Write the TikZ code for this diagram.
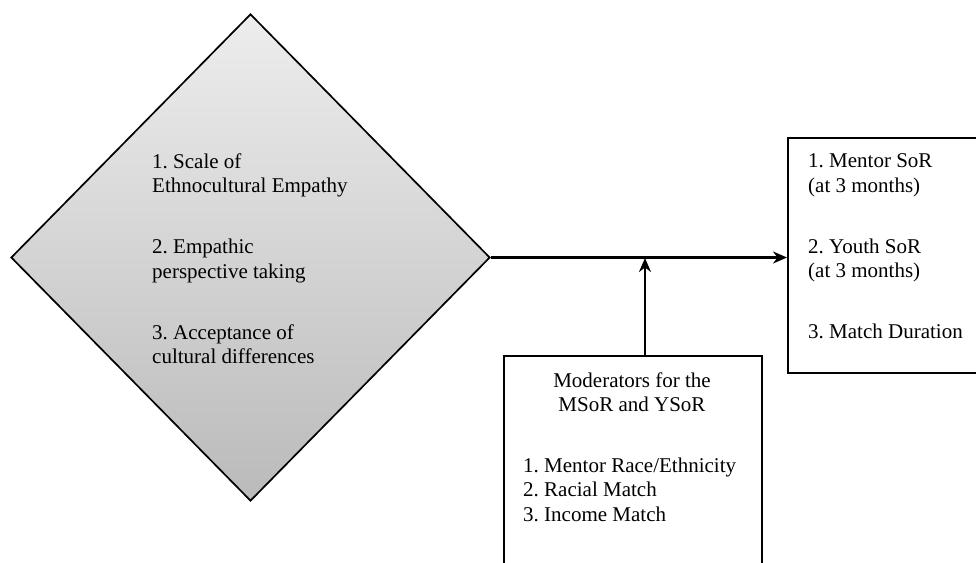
\documentclass[tikz,border=0pt]{standalone}
\usepackage{fontspec}
\setmainfont{Liberation Serif}
\usetikzlibrary{arrows.meta,shapes.geometric}
\frenchspacing

\tikzset{
  box/.style={draw, line width=1.8pt, inner sep=0pt},
  testo/.style={inner sep=0pt, align=left, font=\fontsize{21}{24.5}\selectfont},
  freccia/.style={line width=2.2pt}
}

\begin{document}
\begin{tikzpicture}[>={Stealth[length=14pt,width=12pt]}, x=1pt, y=-1pt]
  \useasboundingbox (0,0) rectangle (976,562);

  % Rombo
  \node[diamond, draw, line width=1.7pt, inner sep=0pt, minimum width=479pt,
        minimum height=487pt, top color=black!7, bottom color=black!27]
        (empatia) at (250.5,257.5) {};
  \node[testo, anchor=north west] (scala) at (152,153.5)
    {1. Scale of\\Ethnocultural Empathy\\[36.5pt]
     2. Empathic\\perspective taking\\[36.5pt]
     3. Acceptance of\\cultural differences};

  % Esiti
  \node[box, minimum width=260pt, minimum height=235pt, anchor=north west]
        (esiti) at (787,137) {};
  \node[testo, anchor=north west] (sor) at (808,153.5)
    {1. Mentor SoR\\(at 3 months)\\[36.5pt]
     2. Youth SoR\\(at 3 months)\\[36.5pt]
     3. Match Duration};

  % Moderatori
  \node[box, minimum width=258pt, minimum height=260pt, anchor=north west]
        (moder) at (503,355) {};
  \node[testo, align=center, anchor=north] (titolo) at (632,372.5)
    {Moderators for the\\MSoR and YSoR};
  \node[testo, anchor=north west] (lista) at (523,457.5)
    {1. Mentor Race/Ethnicity\\2. Racial Match\\3. Income Match};

  % Frecce
  \coordinate (m) at (645,258);
  \draw[freccia, ->] (empatia.east) -- (empatia.east -| esiti.west);
  \draw[freccia, ->] (moder.north west -| m) -- (m);
\end{tikzpicture}
\end{document}
